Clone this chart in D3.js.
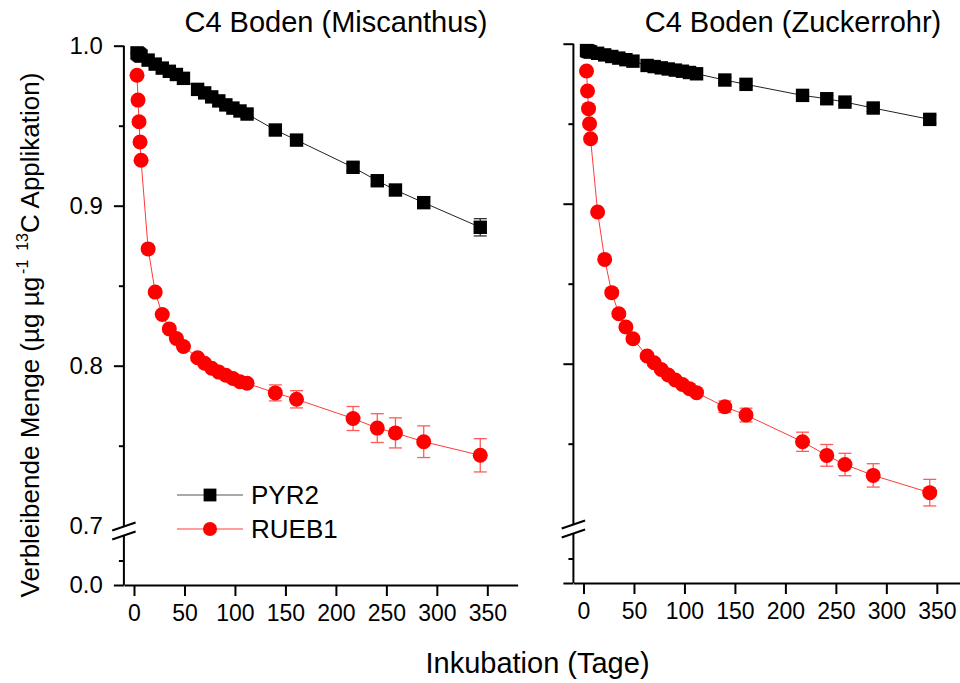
<!DOCTYPE html>
<html>
<head>
<meta charset="utf-8">
<script src="https://cdn.jsdelivr.net/npm/d3@7"></script>
<style>
  html, body { margin: 0; padding: 0; background: #fff; }
  svg { display: block; font-family: Arial, "Liberation Sans", sans-serif; }
</style>
</head>
<body>
<svg id="chart" width="960" height="683"></svg>
<script>
// Sampling days of the incubation
const days = [3, 4, 5, 6, 7, 14, 21, 28, 35, 42, 49, 63, 70, 77, 84, 91, 98, 105, 112, 140, 161, 217, 241, 259, 287, 343];

// C4 soil (Miscanthus)
const misPyr = [0.9955, 0.9950, 0.9945, 0.9940, 0.9935, 0.9910, 0.9885, 0.9860, 0.9840, 0.9820, 0.9796,
                0.9727, 0.9705, 0.9680, 0.9655, 0.9630, 0.9610, 0.9592, 0.9573, 0.9473, 0.9410,
                0.9240, 0.9156, 0.9098, 0.9019, 0.8865];
const misPyrErr = [0.0005, 0.0005, 0.0005, 0.0006, 0.0006, 0.0008, 0.0010, 0.0010, 0.0012, 0.0012, 0.0013,
                   0.0015, 0.0015, 0.0016, 0.0016, 0.0017, 0.0018, 0.0018, 0.0019, 0.0020, 0.0022,
                   0.0025, 0.0028, 0.0030, 0.0033, 0.0054];
const misRueb = [0.9815, 0.9660, 0.9525, 0.9398, 0.9284, 0.8730, 0.8460, 0.8320, 0.8230, 0.8170, 0.8120,
                 0.8050, 0.8015, 0.7984, 0.7960, 0.7940, 0.7920, 0.7900, 0.7890, 0.7830, 0.7790,
                 0.7670, 0.7610, 0.7580, 0.7525, 0.7440];
const misRuebErr = [0.0010, 0.0012, 0.0012, 0.0013, 0.0014, 0.0016, 0.0018, 0.0018, 0.0019, 0.0019, 0.0020,
                    0.0020, 0.0020, 0.0020, 0.0020, 0.0020, 0.0020, 0.0020, 0.0021, 0.0050, 0.0054,
                    0.0075, 0.0090, 0.0094, 0.0099, 0.0104];

// C4 soil (sugar cane)
const zucPyr = [0.9957, 0.9955, 0.9952, 0.9950, 0.9948, 0.9940, 0.9930, 0.9920, 0.9910, 0.9900, 0.9891,
                0.9864, 0.9857, 0.9849, 0.9842, 0.9835, 0.9828, 0.9820, 0.9812, 0.9773, 0.9746,
                0.9677, 0.9656, 0.9635, 0.9598, 0.9527];
const zucPyrErr = [0.0004, 0.0004, 0.0004, 0.0005, 0.0005, 0.0006, 0.0007, 0.0008, 0.0008, 0.0009, 0.0009,
                   0.0010, 0.0010, 0.0011, 0.0011, 0.0012, 0.0012, 0.0012, 0.0013, 0.0015, 0.0016,
                   0.0018, 0.0019, 0.0020, 0.0021, 0.0025];
const zucRueb = [0.9829, 0.9704, 0.9594, 0.9500, 0.9406, 0.8948, 0.8652, 0.8444, 0.8312, 0.8229, 0.8156,
                 0.8048, 0.8006, 0.7964, 0.7929, 0.7898, 0.7870, 0.7844, 0.7819, 0.7731, 0.7679,
                 0.7512, 0.7427, 0.7370, 0.7302, 0.7194];
const zucRuebErr = [0.0010, 0.0011, 0.0012, 0.0012, 0.0013, 0.0015, 0.0016, 0.0017, 0.0017, 0.0018, 0.0018,
                    0.0019, 0.0019, 0.0019, 0.0020, 0.0020, 0.0020, 0.0020, 0.0020, 0.0036, 0.0043,
                    0.0060, 0.0068, 0.0070, 0.0073, 0.0083];

// Axis ticks and texts
const xTicks = [0, 50, 100, 150, 200, 250, 300, 350];
const yMajorUpper = [0.7, 0.8, 0.9, 1.0];
const yMinorUpper = [0.75, 0.85, 0.95];
const yMajorLower = [0.0];
const yMinorLower = [0.05];
const panelTitles = ["C4 Boden (Miscanthus)", "C4 Boden (Zuckerrohr)"];
const seriesNames = ["PYR2", "RUEB1"];
const xLabel = "Inkubation (Tage)";

const svg = d3.select("#chart");
svg.append("rect").attr("width", 960).attr("height", 683).attr("fill", "#fff");

const RED = "#ff0000";
const RED_LINE = "#ff3b3b";
const RED_ERR = "#ff5a5a";

// Shared scales (panel offsets applied with a group transform)
const x = d3.scaleLinear().domain([-10, 380]).range([123.9, 517.6]);
const yUp = d3.scaleLinear().domain([0.7, 1.0]).range([525.7, 45.7]);
const yLow = d3.scaleLinear().domain([0, 0.1]).range([585, 536]);
const axisX = x.range()[0];
const breakUpper = 526.5, breakLower = 535.5;

const panels = [
  { title: panelTitles[0], pyr: misPyr, pyrErr: misPyrErr, rueb: misRueb, ruebErr: misRuebErr,
    dx: 0, dy: 0, labels: true, titleX: 336 },
  { title: panelTitles[1], pyr: zucPyr, pyrErr: zucPyrErr, rueb: zucRueb, ruebErr: zucRuebErr,
    dx: 449.5, dy: -2, labels: false, titleX: 793 }
];

function styleAxis(g, fontSize) {
  g.selectAll("path.domain").attr("stroke", "#000").attr("stroke-width", 2);
  g.selectAll(".tick line").attr("stroke", "#000").attr("stroke-width", 2);
  g.selectAll(".tick text").attr("fill", "#000").attr("font-size", fontSize)
    .attr("font-family", "Arial, 'Liberation Sans', sans-serif");
}

panels.forEach(p => {
  const g = svg.append("g").attr("transform", `translate(${p.dx},${p.dy})`);

  // X axis
  const gx = g.append("g").attr("transform", `translate(0,${yLow(0)})`)
    .call(d3.axisBottom(x).tickValues(xTicks).tickSize(11).tickSizeOuter(0).tickPadding(9)
      .tickFormat(d3.format("d")));
  styleAxis(gx, 23);

  // Upper y segment (0.7 – 1.0)
  const gyU = g.append("g").attr("transform", `translate(${axisX},0)`)
    .call(d3.axisLeft(yUp).tickValues(yMajorUpper).tickSize(10).tickSizeOuter(0).tickPadding(11)
      .tickFormat(p.labels ? d3.format(".1f") : () => ""));
  styleAxis(gyU, 24);
  gyU.selectAll(".tick").filter(d => d === 0.7).select("line").remove();
  gyU.select("path.domain").attr("d", `M0,${yUp(1.0)}V${breakUpper}`);
  const gyUm = g.append("g").attr("transform", `translate(${axisX},0)`)
    .call(d3.axisLeft(yUp).tickValues(yMinorUpper).tickSize(5).tickSizeOuter(0).tickFormat(() => ""));
  styleAxis(gyUm, 24);
  gyUm.select("path.domain").remove();

  // Lower y segment (0.0 – 0.1)
  const gyL = g.append("g").attr("transform", `translate(${axisX},0)`)
    .call(d3.axisLeft(yLow).tickValues(yMajorLower).tickSize(10).tickSizeOuter(0).tickPadding(11)
      .tickFormat(p.labels ? d3.format(".1f") : () => ""));
  styleAxis(gyL, 24);
  gyL.select("path.domain").attr("d", `M0,${breakLower}V${yLow(0)}`);
  const gyLm = g.append("g").attr("transform", `translate(${axisX},0)`)
    .call(d3.axisLeft(yLow).tickValues(yMinorLower).tickSize(5).tickSizeOuter(0).tickFormat(() => ""));
  styleAxis(gyLm, 24);
  gyLm.select("path.domain").remove();

  // Axis break marks
  [breakUpper, breakLower].forEach(cy => {
    g.append("line")
      .attr("x1", axisX - 11.7).attr("y1", cy + 4)
      .attr("x2", axisX + 11.7).attr("y2", cy - 4)
      .attr("stroke", "#000").attr("stroke-width", 2);
  });

  // Panel title
  svg.append("text").attr("x", p.titleX).attr("y", 31.5)
    .attr("text-anchor", "middle").attr("font-size", 29).attr("fill", "#000")
    .text(p.title);

  const series = [
    { vals: p.pyr, errs: p.pyrErr, line: "#222", err: "#333", kind: "square" },
    { vals: p.rueb, errs: p.ruebErr, line: RED_LINE, err: RED_ERR, kind: "circle" }
  ];

  series.forEach(s => {
    const pts = days.map((d, i) => ({ day: d, v: s.vals[i], e: s.errs[i] }));
    g.append("path").datum(pts)
      .attr("fill", "none").attr("stroke", s.line).attr("stroke-width", 1)
      .attr("d", d3.line().x(d => x(d.day)).y(d => yUp(d.v)));

    const eb = g.append("g").selectAll("g").data(pts).join("g");
    eb.append("line")
      .attr("x1", d => x(d.day)).attr("x2", d => x(d.day))
      .attr("y1", d => yUp(d.v - d.e)).attr("y2", d => yUp(d.v + d.e))
      .attr("stroke", s.err).attr("stroke-width", 1.3);
    [-1, 1].forEach(sg => {
      eb.append("line")
        .attr("x1", d => x(d.day) - 6.5).attr("x2", d => x(d.day) + 6.5)
        .attr("y1", d => yUp(d.v + sg * d.e)).attr("y2", d => yUp(d.v + sg * d.e))
        .attr("stroke", s.err).attr("stroke-width", 1.3);
    });

    if (s.kind === "square") {
      g.append("g").selectAll("rect").data(pts).join("rect")
        .attr("x", d => x(d.day) - 6.7).attr("y", d => yUp(d.v) - 6.7)
        .attr("width", 13.4).attr("height", 13.4).attr("fill", "#000");
    } else {
      g.append("g").selectAll("circle").data(pts).join("circle")
        .attr("cx", d => x(d.day)).attr("cy", d => yUp(d.v))
        .attr("r", 7.5).attr("fill", RED);
    }
  });
});

// Legend
const legend = svg.append("g");
const legendRows = [
  { name: seriesNames[0], y: 495, line: "#555", kind: "square" },
  { name: seriesNames[1], y: 529, line: RED_LINE, kind: "circle" }
];
legendRows.forEach(r => {
  legend.append("line").attr("x1", 177).attr("x2", 243).attr("y1", r.y).attr("y2", r.y)
    .attr("stroke", r.line).attr("stroke-width", 1.2);
  if (r.kind === "square") {
    legend.append("rect").attr("x", 210 - 6.4).attr("y", r.y - 6.4)
      .attr("width", 12.8).attr("height", 12.8).attr("fill", "#000");
  } else {
    legend.append("circle").attr("cx", 210).attr("cy", r.y).attr("r", 7).attr("fill", RED);
  }
  legend.append("text").attr("x", 251).attr("y", r.y).attr("dy", "0.35em")
    .attr("font-size", 26).attr("fill", "#000").text(r.name);
});

// X axis title
svg.append("text").attr("x", 537.5).attr("y", 673)
  .attr("text-anchor", "middle").attr("font-size", 29).attr("fill", "#000")
  .text(xLabel);

// Y axis title with superscripts
const yt = svg.append("text")
  .attr("transform", "translate(39,335) rotate(-90)")
  .attr("text-anchor", "middle").attr("font-size", 26).attr("fill", "#000");
yt.append("tspan").text("Verbleibende Menge (µg µg");
yt.append("tspan").attr("font-size", 16).attr("dx", 3).attr("dy", -11).text("-1");
yt.append("tspan").attr("font-size", 16).attr("dx", 10).attr("dy", 0).text("13");
yt.append("tspan").attr("dy", 11).text("C Applikation)");
</script>
</body>
</html>
